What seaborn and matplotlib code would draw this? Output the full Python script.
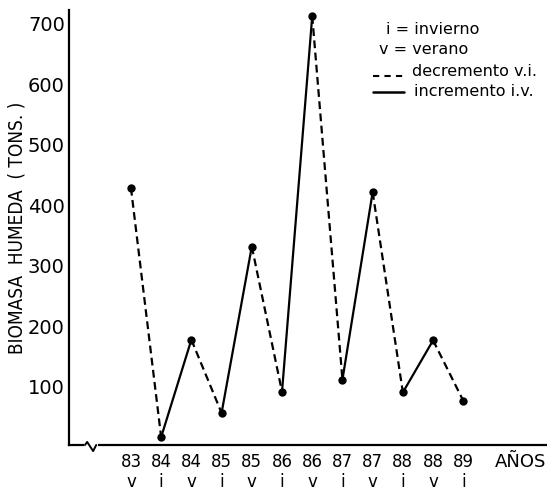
#!/usr/bin/env python3
"""Biomasa humeda por temporada (invierno / verano), 1983-1989."""

import matplotlib

matplotlib.use("Agg")
import matplotlib.pyplot as plt
import matplotlib.transforms as mtransforms
from matplotlib import font_manager
import pandas as pd
import seaborn as sns

# Data
years = ["83", "84", "84", "85", "85", "86", "86", "87", "87", "88", "88", "89"]
seasons = ["v", "i", "v", "i", "v", "i", "v", "i", "v", "i", "v", "i"]
biomasa = [429, 17, 178, 57, 332, 92, 713, 112, 422, 91, 177, 77]
y_ticks = [100, 200, 300, 400, 500, 600, 700]

W, H = 547, 493


def narrow_font():
    """Pick a condensed sans for the long y label, if one is installed."""
    fonts = font_manager.fontManager.ttflist
    for f in fonts:
        if f.name == "Liberation Sans Narrow":
            return dict(family="Liberation Sans Narrow", fontsize=15.5)
    for f in fonts:
        if f.name == "DejaVu Sans" and f.stretch in ("condensed", "semi-condensed", 300):
            return dict(family="DejaVu Sans", fontstretch="condensed", fontsize=13.6)
    for f in fonts:
        if "Condensed" in f.name or "Narrow" in f.name:
            return dict(family=f.name, fontsize=14)
    return dict(family="DejaVu Sans", fontsize=12.4)


def main() -> None:
    sns.set_theme(style="white")
    plt.rcParams["font.family"] = ["DejaVu Sans"]
    plt.rcParams.update({"text.color": "black", "axes.labelcolor": "black",
                         "xtick.color": "black", "ytick.color": "black"})

    pts = pd.DataFrame({"pos": range(len(biomasa)), "biomasa": biomasa, "season": seasons})

    # one two-point segment per consecutive pair: v->i decrement, i->v increment
    rows = []
    for k in range(len(biomasa) - 1):
        tipo = "decremento" if seasons[k] == "v" else "incremento"
        for j in (k, k + 1):
            rows.append({"seg": k, "pos": j, "biomasa": biomasa[j], "tipo": tipo})
    segs = pd.DataFrame(rows)

    fig = plt.figure(figsize=(W / 100, H / 100), dpi=100)
    ax = fig.add_axes([69 / W, (H - 445) / H, (W - 69) / W, (445 - 10) / H])

    sns.lineplot(
        data=segs, x="pos", y="biomasa", units="seg", estimator=None,
        style="tipo", dashes={"decremento": (3.5, 2.0), "incremento": ""},
        color="black", linewidth=1.6, legend=False, ax=ax,
    )
    sns.scatterplot(data=pts, x="pos", y="biomasa", color="black", s=36,
                    edgecolor="black", linewidth=0, legend=False, ax=ax, zorder=3)

    ax.set_xlim(-2.05, 13.77)
    ax.set_ylim(4, 723)

    for side in ("top", "right"):
        ax.spines[side].set_visible(False)
    for side in ("left", "bottom"):
        ax.spines[side].set_color("black")
        ax.spines[side].set_linewidth(1.6)

    ax.set_xticks(range(len(years)))
    ax.set_xticklabels([f"{y}\n{s}" for y, s in zip(years, seasons)],
                       fontsize=12, linespacing=1.12)
    ax.set_yticks(y_ticks)
    ax.set_yticklabels([str(v) for v in y_ticks], fontsize=14)
    ax.tick_params(axis="x", direction="in", length=5, width=1, pad=6)
    ax.tick_params(axis="y", direction="in", length=8, width=1, pad=3)

    ax.set_xlabel("")
    ax.set_ylabel("BIOMASA  HUMEDA  ( TONS. )", **narrow_font())
    ax.yaxis.set_label_coords(-0.088, 0.5)

    # axis break on the x axis
    trans = mtransforms.blended_transform_factory(ax.transData, ax.transAxes)
    ax.plot([-1.48, -1.15], [0.0, 0.0], color="white", linewidth=3,
            transform=trans, clip_on=False, zorder=4)
    ax.plot([-1.52, -1.45, -1.25, -1.15], [0.0, 0.007, -0.014, 0.0], color="black",
            linewidth=1.4, transform=trans, clip_on=False, zorder=5)

    ax.text(12.03, -0.039, "AÑOS", transform=trans, fontsize=13, va="center", ha="left")

    # key, top right
    def fx(px):
        return (px - 69) / (W - 69)

    def fy(py):
        return (445 - py) / (445 - 10)

    kw = dict(transform=ax.transAxes, fontsize=11.5, va="center", ha="left")
    ax.text(fx(386), fy(29), "i = invierno", **kw)
    ax.text(fx(379), fy(49), "v = verano", **kw)
    ax.text(fx(412), fy(72), "decremento v.i.", **kw)
    ax.text(fx(414), fy(91), "incremento i.v.", **kw)
    ax.plot([fx(373), fx(404)], [fy(76), fy(76)], transform=ax.transAxes, color="black",
            linewidth=1.5, dashes=(3.0, 2.5), clip_on=False)
    ax.plot([fx(373), fx(404)], [fy(92), fy(92)], transform=ax.transAxes, color="black",
            linewidth=1.8, clip_on=False)

    fig.savefig("out.png", dpi=100)
    plt.close(fig)


if __name__ == "__main__":
    main()
